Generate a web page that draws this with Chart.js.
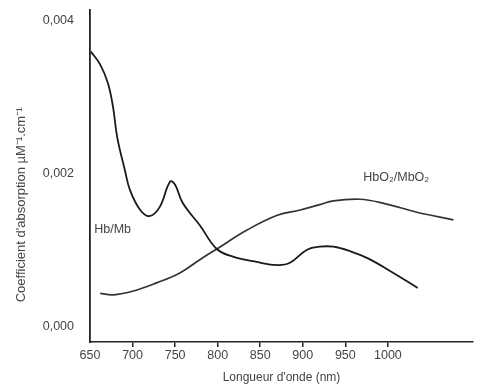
<!DOCTYPE html>
<html>
<head>
<meta charset="utf-8">
<script src="https://cdn.jsdelivr.net/npm/chart.js@4/dist/chart.umd.min.js"></script>
<style>
  html, body { margin: 0; padding: 0; background: #fff; }
  canvas { display: block; }
</style>
</head>
<body>
<canvas id="myChart" width="478" height="392"></canvas>
<script>
// Hb/Mb curve (nm, coefficient)
var hbWavelengths = [651, 662, 671, 677, 682, 691, 697, 709, 720, 732, 744, 750, 759, 779, 799, 818, 846, 870, 885, 905, 920, 936, 956, 976, 1006, 1035];
var hbValues = [0.00360, 0.00343, 0.00319, 0.00288, 0.00248, 0.00205, 0.00179, 0.00153, 0.00145, 0.00157, 0.00190, 0.00186, 0.00162, 0.00133, 0.00102, 0.00092, 0.00085, 0.00081, 0.00084, 0.00101, 0.00105, 0.00105, 0.00099, 0.00090, 0.00071, 0.00051];

// HbO2/MbO2 curve
var hbo2Wavelengths = [662, 677, 701, 729, 756, 779, 799, 835, 870, 897, 920, 936, 967, 994, 1034, 1077];
var hbo2Values = [0.00044, 0.00042, 0.00047, 0.00058, 0.00071, 0.00088, 0.00102, 0.00127, 0.00146, 0.00153, 0.00160, 0.00165, 0.00167, 0.00162, 0.00150, 0.00140];

var xTicks = [650, 700, 750, 800, 850, 900, 950, 1000];
var yTicks = [0, 0.002, 0.004];

var curveLabels = ["Hb/Mb", "HbO\u2082/MbO\u2082"];
var curveLabelAt = [[655, 0.00128], [971, 0.00196]];

function toPoints(xs, ys) {
    var pts = [];
    for (var i = 0; i < xs.length; i++) {
        pts.push({ x: xs[i], y: ys[i] });
    }
    return pts;
}

var textColor = '#444';
var fontFam = '"Liberation Sans", Arial, sans-serif';

// writes the curve names next to the curves
var curveNames = {
    id: 'curveNames',
    afterDatasetsDraw: function (chart) {
        var ctx = chart.ctx;
        var xs = chart.scales.x, ys = chart.scales.y;
        ctx.save();
        ctx.fillStyle = textColor;
        ctx.font = '12.5px ' + fontFam;
        ctx.textBaseline = 'middle';
        ctx.textAlign = 'left';
        for (var i = 0; i < curveLabels.length; i++) {
            ctx.fillText(curveLabels[i], xs.getPixelForValue(curveLabelAt[i][0]), ys.getPixelForValue(curveLabelAt[i][1]));
        }
        ctx.restore();
    }
};

const config = {
    type: 'line',
    data: {
        datasets: [{
            label: curveLabels[0],
            data: toPoints(hbWavelengths, hbValues),
            borderColor: '#1a1a1a',
            borderWidth: 1.8,
            pointRadius: 0,
            tension: 0.4,
            fill: false
        }, {
            label: curveLabels[1],
            data: toPoints(hbo2Wavelengths, hbo2Values),
            borderColor: '#333',
            borderWidth: 1.7,
            pointRadius: 0,
            tension: 0.4,
            fill: false
        }]
    },
    options: {
        responsive: false,
        animation: false,
        layout: { padding: { top: 10, right: 5, left: 0, bottom: 0 } },
        plugins: {
            legend: { display: false },
            tooltip: { enabled: false }
        },
        scales: {
            x: {
                type: 'linear',
                min: 650,
                max: 1100,
                afterBuildTicks: function (s) { s.ticks = xTicks.map(function (v) { return { value: v }; }); },
                afterFit: function (s) { s.height = 50; s.paddingLeft = 0; s.paddingRight = 0; },
                border: { display: true, color: '#222', width: 1.6 },
                grid: {
                    drawOnChartArea: false,
                    drawTicks: true,
                    tickLength: 5,
                    lineWidth: 1.5,
                    color: function (c) { return (c.tick && c.tick.value === 650) ? 'rgba(0,0,0,0)' : '#222'; }
                },
                ticks: {
                    color: textColor,
                    font: { family: fontFam, size: 12.5 },
                    padding: 1,
                    maxRotation: 0,
                    callback: function (v) { return '' + v; }
                },
                title: {
                    display: true,
                    text: "Longueur d'onde (nm)",
                    color: textColor,
                    font: { family: fontFam, size: 12 },
                    padding: { top: 0, bottom: 7 }
                }
            },
            y: {
                type: 'linear',
                min: -0.000196,
                max: 0.004144,
                afterBuildTicks: function (s) { s.ticks = yTicks.map(function (v) { return { value: v }; }); },
                afterFit: function (s) { s.width = 90; s.paddingTop = 0; s.paddingBottom = 0; },
                border: { display: true, color: '#222', width: 1.8 },
                grid: { drawOnChartArea: false, drawTicks: false },
                ticks: {
                    color: textColor,
                    font: { family: fontFam, size: 12.5 },
                    padding: 16,
                    callback: function (v) { return v.toFixed(3).replace('.', ','); }
                },
                title: {
                    display: true,
                    text: "Coefficient d'absorption \u00b5M\u207b\u00b9.cm\u207b\u00b9                ",
                    color: textColor,
                    font: { family: fontFam, size: 13 },
                    padding: { top: 14, bottom: 0 }
                }
            }
        }
    },
    plugins: [curveNames]
};

var myChart = new Chart(document.getElementById('myChart'), config);
</script>
</body>
</html>
